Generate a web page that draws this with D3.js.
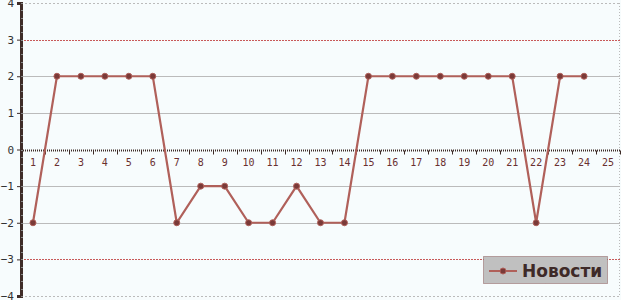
<!DOCTYPE html>
<html>
<head>
<meta charset="utf-8">
<script src="https://cdn.jsdelivr.net/npm/d3@7"></script>
<style>
  body { margin: 0; background: #fff; }
  svg { display: block; }
</style>
</head>
<body>
<svg id="chart"></svg>
<script>
const width = 621, height = 300,
  margin = {top: 3, right: 1, bottom: 4, left: 21},
  lineColor = '#b0605a',
  axisColor = '#3e2c28',
  bgColor = '#f7fcfd'

const categories = d3.range(1, 26)
const seriesName = 'Новости'
const seriesValues = [-2, 2, 2, 2, 2, 2, -2, -1, -1, -2, -2, -1, -2, -2, 2, 2, 2, 2, 2, 2, 2, -2, 2, 2]
const yTicks = [-4, -3, -2, -1, 0, 1, 2, 3, 4]

const svg = d3.select('#chart').attr('width', width).attr('height', height)

const x = d3.scaleBand()
  .domain(categories)
  .range([margin.left, width - margin.right])

const y = d3.scaleLinear()
  .domain([-4, 4])
  .range([height - margin.bottom, margin.top])

svg.append('rect')
  .attr('width', width).attr('height', height)
  .attr('fill', bgColor)

// gridlines
svg.append('g').selectAll('line')
  .data(yTicks.filter(d => d !== 0))
  .join('line')
  .attr('x1', margin.left).attr('x2', width - margin.right)
  .attr('y1', d => Math.round(y(d)) + 0.5).attr('y2', d => Math.round(y(d)) + 0.5)
  .attr('stroke', d => Math.abs(d) === 3 ? '#c85a5a' : '#bbbbbb')
  .attr('stroke-dasharray', d => Math.abs(d) === 3 ? '2,1' : Math.abs(d) === 4 ? '2,2' : null)

// right border
svg.append('line')
  .attr('x1', width - 1.5).attr('x2', width - 1.5)
  .attr('y1', margin.top).attr('y2', height - margin.bottom)
  .attr('stroke', '#bbbbbb').attr('stroke-dasharray', '1,2')

// zero axis with tick marks at band boundaries
const y0 = Math.round(y(0)) + 0.5
svg.append('line')
  .attr('x1', margin.left).attr('x2', width - margin.right)
  .attr('y1', y0).attr('y2', y0)
  .attr('stroke', axisColor).attr('stroke-width', 2)
  .attr('stroke-dasharray', '1,1')
svg.append('g').selectAll('line')
  .data(categories)
  .join('line')
  .attr('x1', d => Math.round(x(d) + x.bandwidth()) + 0.5)
  .attr('x2', d => Math.round(x(d) + x.bandwidth()) + 0.5)
  .attr('y1', y0).attr('y2', y0 + 4)
  .attr('stroke', axisColor)

svg.append('g').selectAll('text')
  .data(categories)
  .join('text')
  .attr('x', d => x(d) + x.bandwidth() / 2)
  .attr('y', y0 + 15)
  .attr('text-anchor', 'middle')
  .attr('font-family', 'DejaVu Sans Mono, monospace')
  .attr('font-size', 10)
  .attr('fill', '#6a3030')
  .text(d => d)

// y axis
const yAxis = d3.axisLeft(y).tickValues(yTicks).tickSize(4).tickFormat(d3.format('d'))
const yg = svg.append('g')
  .attr('transform', `translate(${margin.left},0)`)
  .call(yAxis)
yg.select('.domain').attr('stroke', axisColor).attr('stroke-width', 3)
yg.selectAll('.tick line').attr('stroke', axisColor)
yg.selectAll('.tick text')
  .attr('font-family', 'DejaVu Sans Mono, monospace')
  .attr('font-size', 11)
  .attr('fill', '#333')
  .attr('x', -7)
  .text(d => d < 0 ? '\u2212' + Math.abs(d) : d)
yg.append('g').selectAll('line')
  .data(d3.range(-4, 4.01, 0.2))
  .join('line')
  .attr('x1', 0).attr('x2', 2)
  .attr('y1', d => Math.round(y(d)) + 0.5).attr('y2', d => Math.round(y(d)) + 0.5)
  .attr('stroke', '#888')

// series
const points = seriesValues.map((v, i) => ({c: categories[i], v}))
const line = d3.line()
  .x(d => x(d.c) + x.bandwidth() / 2)
  .y(d => y(d.v))

svg.append('path')
  .datum(points)
  .attr('d', line)
  .attr('fill', 'none')
  .attr('stroke', lineColor)
  .attr('stroke-width', 2.2)

svg.append('g').selectAll('circle')
  .data(points)
  .join('circle')
  .attr('cx', d => x(d.c) + x.bandwidth() / 2)
  .attr('cy', d => y(d.v))
  .attr('r', 3)
  .attr('fill', '#7a3a38')
  .attr('stroke', '#b0605a')
  .attr('stroke-width', 1)

// legend
const legend = svg.append('g').attr('transform', 'translate(483,256)')
legend.append('rect')
  .attr('x', 0.5).attr('y', 0.5)
  .attr('width', 124).attr('height', 27)
  .attr('fill', '#c0c0c0')
  .attr('stroke', '#8a5a5a')
  .attr('stroke-dasharray', '1,1')
legend.append('line')
  .attr('x1', 6).attr('x2', 34).attr('y1', 15).attr('y2', 15)
  .attr('stroke', lineColor).attr('stroke-width', 2)
legend.append('circle')
  .attr('cx', 20).attr('cy', 15).attr('r', 3)
  .attr('fill', '#7a3a38').attr('stroke', lineColor)
legend.append('text')
  .attr('x', 39).attr('y', 21)
  .attr('font-family', 'DejaVu Sans, sans-serif')
  .attr('font-weight', 'bold')
  .attr('font-size', 17)
  .attr('fill', '#3e2a28')
  .text(seriesName)
</script>
</body>
</html>
